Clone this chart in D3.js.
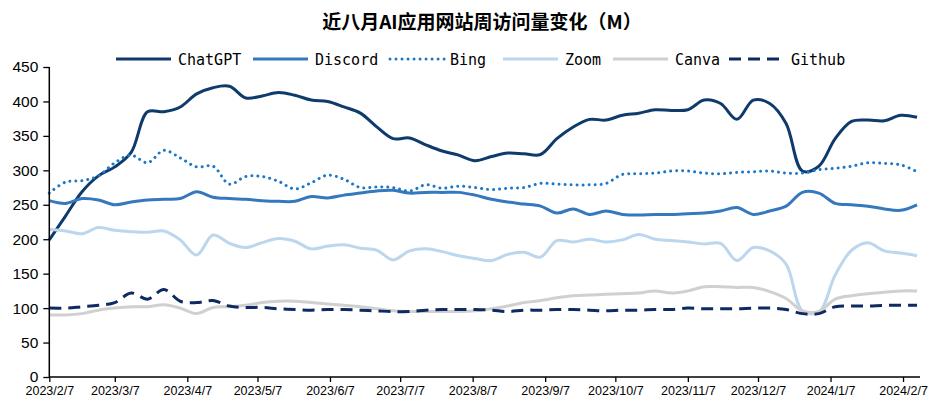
<!DOCTYPE html>
<html><head><meta charset="utf-8">
<script src="https://cdn.jsdelivr.net/npm/d3@7"></script>
<style>body{margin:0;background:#fff;} svg{display:block;}</style>
</head><body>
<svg id="c" width="931" height="400"></svg>
<script>
const title = "近八月AI应用网站周访问量变化（M）";
const startDate = "2023-02-07";
const seriesNames = ["ChatGPT","Discord","Bing","Zoom","Canva","Github"];
const chatgpt = [199,234,269,292,305,326,385,385,392,411,420,422,405,408,413,409,402,400,392,383,363,346,347,337,328,322,314,320,325,324,323,346,363,374,373,380,383,388,387,388,402,397,374,402,397,368,299,306,346,371,373,372,380,377];
const discord = [256,252,259,257,250,254,257,258,259,269,261,259,258,256,255,255,262,260,264,267,270,271,267,268,268,268,264,258,254,251,248,238,244,236,241,236,235,236,236,237,238,241,246,236,241,248,268,267,252,250,248,244,242,250];
const bing = [267,283,285,292,311,322,311,329,318,305,306,280,291,291,284,273,282,293,287,275,276,275,270,279,274,277,275,272,274,275,281,280,279,279,281,294,295,296,299,299,296,295,297,298,299,296,296,301,303,306,311,310,308,298];
const zoom = [214,212,208,217,213,211,210,212,199,177,206,194,188,195,201,197,186,190,192,187,184,170,183,186,182,176,172,169,178,181,174,198,196,200,196,199,207,200,198,196,193,194,169,188,183,164,96,94,148,184,195,183,180,176];
const canva = [90,90,92,97,100,102,102,105,100,92,101,102,104,108,110,110,108,106,104,102,99,96,95,95,95,95,96,99,103,108,111,115,118,119,120,121,122,125,122,125,131,131,130,130,124,114,96,95,113,118,121,123,125,125];
const github = [100,100,102,104,108,122,113,127,110,108,111,103,101,101,99,98,97,98,98,97,96,95,95,97,98,98,98,97,95,97,97,98,98,97,96,97,97,98,98,100,99,99,99,100,100,98,92,92,102,103,103,104,104,104];
const yTicks = [0,50,100,150,200,250,300,350,400,450];
const xTickLabels = ["2023/2/7","2023/3/7","2023/4/7","2023/5/7","2023/6/7","2023/7/7","2023/8/7","2023/9/7","2023/10/7","2023/11/7","2023/12/7","2024/1/7","2024/2/7"];

const allSeries = [chatgpt, discord, bing, zoom, canva, github];
const styles = [
  {color:"#0f3a6c", dash:null, cap:"butt"},
  {color:"#3578bd", dash:null, cap:"butt"},
  {color:"#1c77c6", dash:"0.01,6", cap:"round"},
  {color:"#bcd6ee", dash:null, cap:"butt"},
  {color:"#d0d0d0", dash:null, cap:"butt"},
  {color:"#0d2a62", dash:"12,7", cap:"butt"}
];

const parse = d3.timeParse("%Y-%m-%d");
const parseTick = d3.timeParse("%Y/%m/%d");
const t0 = parse(startDate);
const dates = chatgpt.map((_, i) => d3.timeDay.offset(t0, i * 7));

const svg = d3.select("#c");
const x = d3.scaleTime().domain([t0, d3.timeDay.offset(t0, 372)]).range([49.3, 919.4]);
const y = d3.scaleLinear().domain([0, 450]).range([377, 67]);

// title
svg.append("text").attr("x", 482).attr("y", 29).attr("text-anchor", "middle")
  .attr("font-family", "'Noto Sans CJK SC', sans-serif").attr("font-weight", "bold")
  .attr("font-size", 19).attr("fill", "#000").text(title);

// lines
const line = d3.line().x((d, i) => x(dates[i])).y(d => y(d)).curve(d3.curveCatmullRom.alpha(0.5));
allSeries.forEach((s, k) => {
  const p = svg.append("path").datum(s).attr("d", line).attr("fill", "none")
    .attr("stroke", styles[k].color).attr("stroke-width", 3)
    .attr("stroke-linecap", styles[k].cap).attr("stroke-linejoin", "round");
  if (styles[k].dash) p.attr("stroke-dasharray", styles[k].dash);
});

// y axis
const yAxis = d3.axisLeft(y).tickValues(yTicks).tickSize(6).tickPadding(5);
const gy = svg.append("g").attr("transform", "translate(49.3,0)").call(yAxis);
gy.select(".domain").attr("stroke", "#000").attr("stroke-width", 1.5).attr("d", "M0,67V377");
gy.selectAll(".tick line").attr("stroke", "#000").attr("stroke-width", 1.3);
gy.selectAll(".tick text").attr("font-family", "'Liberation Sans', Arial, sans-serif")
  .attr("font-size", 15.5).attr("fill", "#000");

// x axis
const xAxis = d3.axisBottom(x).tickValues(xTickLabels.map(parseTick))
  .tickFormat((d, i) => xTickLabels[i]).tickSize(5).tickPadding(4);
const gx = svg.append("g").attr("transform", "translate(0,377)").call(xAxis);
gx.select(".domain").attr("stroke", "#000").attr("stroke-width", 1.5).attr("d", "M49.3,0H920");
gx.selectAll(".tick line").attr("stroke", "#000").attr("stroke-width", 1.3);
gx.selectAll(".tick text").attr("font-family", "'Liberation Sans', Arial, sans-serif")
  .attr("font-size", 12.5).attr("fill", "#000");

// legend
const legX = [116, 253, 390, 503, 613, 729];
const lg = svg.append("g");
seriesNames.forEach((n, k) => {
  const g = lg.append("g").attr("transform", `translate(${legX[k]},59)`);
  const l = g.append("line").attr("x1", 0).attr("x2", 55).attr("y1", 0).attr("y2", 0)
    .attr("stroke", styles[k].color).attr("stroke-width", 3).attr("stroke-linecap", styles[k].cap);
  if (styles[k].dash) l.attr("stroke-dasharray", styles[k].dash);
  g.append("text").attr("x", k === 2 ? 60 : 62).attr("y", 5.5)
    .attr("font-family", "'DejaVu Sans Mono', monospace").attr("font-size", 15)
    .attr("fill", "#000").text(k === 2 ? " " + n : n);
});
</script>
</body></html>
